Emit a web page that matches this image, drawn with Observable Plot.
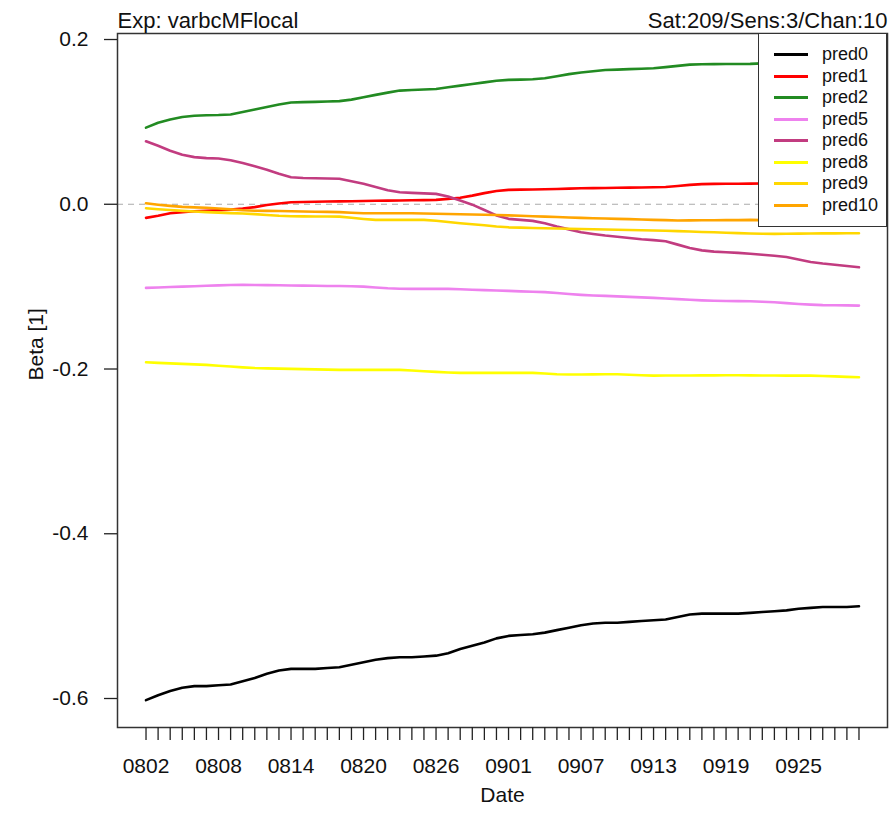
<!DOCTYPE html>
<html>
<head>
<meta charset="utf-8">
<script src="https://cdn.jsdelivr.net/npm/d3@7"></script>
<script src="https://cdn.jsdelivr.net/npm/@observablehq/plot@0.6"></script>
<style>
  html, body { margin: 0; padding: 0; background: #fff; }
  #wrap { position: relative; width: 889px; height: 831px; font-family: "Liberation Sans", Arial, Helvetica, sans-serif; }
  #legend { position: absolute; left: 758px; top: 33px; width: 127px; height: 192px; background: #fff; border: 1.5px solid #333; box-sizing: content-box; }
  .lg-row { position: absolute; left: 0; height: 20px; width: 127px; }
  .lg-line { position: absolute; left: 15px; top: 9px; width: 34px; height: 0; border-top: 3px solid; }
  .lg-text { position: absolute; left: 63px; top: 0; font-size: 18px; line-height: 20px; color: #111; }
</style>
</head>
<body>
<div id="wrap"></div>
<script>
// Dates (MMDD), one per day
const dates = ["0802","0803","0804","0805","0806","0807","0808","0809","0810","0811","0812","0813","0814","0815","0816","0817","0818","0819","0820","0821","0822","0823","0824","0825","0826","0827","0828","0829","0830","0831",
               "0901","0902","0903","0904","0905","0906","0907","0908","0909","0910","0911","0912","0913","0914","0915","0916","0917","0918","0919","0920","0921","0922","0923","0924","0925","0926","0927","0928","0929","0930"];
const labelEvery = 6;
const yTicks = [0.2, 0.0, -0.2, -0.4, -0.6];

const seriesNames = ["pred0","pred1","pred2","pred5","pred6","pred8","pred9","pred10"];
const seriesColors = ["#000000","#ff0000","#228b22","#ee82ee","#c23c80","#ffff00","#ffd700","#ffa500"];

const pred0 = [-0.602,-0.596,-0.591,-0.587,-0.585,-0.585,-0.584,-0.583,-0.579,-0.575,-0.570,-0.566,-0.564,-0.564,-0.564,-0.563,-0.562,-0.559,-0.556,-0.553,
               -0.551,-0.550,-0.550,-0.549,-0.548,-0.545,-0.540,-0.536,-0.532,-0.527,-0.524,-0.523,-0.522,-0.520,-0.517,-0.514,-0.511,-0.509,-0.508,-0.508,
               -0.507,-0.506,-0.505,-0.504,-0.501,-0.498,-0.497,-0.497,-0.497,-0.497,-0.496,-0.495,-0.494,-0.493,-0.491,-0.490,-0.489,-0.489,-0.489,-0.488];
const pred1 = [-0.0165,-0.014,-0.011,-0.0095,-0.0085,-0.0078,-0.0072,-0.0065,-0.0052,-0.0035,-0.001,0.001,0.0024,0.0027,0.003,0.0033,0.0035,0.0037,0.004,0.0042,
               0.0044,0.0046,0.0048,0.005,0.0053,0.0065,0.008,0.0105,0.0135,0.016,0.0175,0.0178,0.018,0.0183,0.0186,0.019,0.0194,0.0196,0.0198,0.02,
               0.0202,0.0204,0.0206,0.021,0.0222,0.0235,0.0244,0.0248,0.0249,0.0249,0.025,0.0252,0.0255,0.0258,0.026,0.0262,0.0264,0.0266,0.0268,0.027];
const pred2 = [0.093,0.099,0.103,0.106,0.1075,0.108,0.1083,0.109,0.112,0.115,0.118,0.121,0.1235,0.124,0.1243,0.1247,0.1252,0.127,0.130,0.1328,
               0.1355,0.138,0.1388,0.1393,0.140,0.142,0.144,0.146,0.148,0.150,0.151,0.1513,0.1517,0.153,0.1555,0.158,0.160,0.1615,0.163,0.1635,
               0.164,0.1645,0.1652,0.1665,0.168,0.1695,0.170,0.1701,0.1702,0.1703,0.1704,0.171,0.1718,0.1725,0.173,0.1733,0.1736,0.174,0.1742,0.1745];
const pred5 = [-0.1015,-0.101,-0.1005,-0.100,-0.0995,-0.099,-0.0985,-0.098,-0.0979,-0.098,-0.0982,-0.0984,-0.0986,-0.0988,-0.099,-0.0992,-0.0993,-0.0995,-0.100,-0.101,
               -0.102,-0.1025,-0.1027,-0.1027,-0.1027,-0.1027,-0.1032,-0.1037,-0.1042,-0.1047,-0.1052,-0.1057,-0.1062,-0.1067,-0.1078,-0.109,-0.110,-0.1107,-0.1112,-0.1118,
               -0.1124,-0.113,-0.1136,-0.1144,-0.1152,-0.116,-0.1167,-0.1171,-0.1174,-0.1176,-0.1178,-0.1183,-0.119,-0.120,-0.121,-0.1218,-0.1224,-0.1226,-0.1228,-0.123];
const pred6 = [0.0765,0.071,0.065,0.060,0.0572,0.056,0.0555,0.0535,0.050,0.046,0.042,0.037,0.0328,0.0318,0.0315,0.0312,0.031,0.028,0.0248,0.021,
               0.017,0.0145,0.0138,0.0132,0.0126,0.0095,0.0045,-0.0005,-0.007,-0.0135,-0.0177,-0.019,-0.0202,-0.023,-0.027,-0.0305,-0.034,-0.036,-0.038,-0.0395,
               -0.041,-0.0425,-0.0435,-0.045,-0.049,-0.053,-0.056,-0.0575,-0.0582,-0.059,-0.060,-0.0612,-0.0625,-0.064,-0.067,-0.070,-0.072,-0.0735,-0.075,-0.0765];
const pred8 = [-0.1918,-0.1925,-0.1932,-0.1938,-0.1944,-0.195,-0.196,-0.197,-0.198,-0.1988,-0.1992,-0.1995,-0.1998,-0.2001,-0.2004,-0.2007,-0.201,-0.201,-0.201,-0.201,
               -0.201,-0.201,-0.2018,-0.2027,-0.2035,-0.2042,-0.2047,-0.2047,-0.2047,-0.2047,-0.2047,-0.2047,-0.2047,-0.2055,-0.2063,-0.2067,-0.2066,-0.2065,-0.2064,-0.2064,
               -0.207,-0.2075,-0.208,-0.2079,-0.2078,-0.2078,-0.2077,-0.2077,-0.2076,-0.2076,-0.2077,-0.2078,-0.2079,-0.208,-0.208,-0.208,-0.2085,-0.209,-0.2095,-0.210];
const pred9 = [-0.0049,-0.006,-0.007,-0.008,-0.0088,-0.0095,-0.0102,-0.0108,-0.0113,-0.012,-0.013,-0.014,-0.0146,-0.0147,-0.0148,-0.0149,-0.015,-0.0163,-0.0178,-0.019,
               -0.019,-0.019,-0.019,-0.019,-0.020,-0.0215,-0.023,-0.0242,-0.0254,-0.027,-0.028,-0.0284,-0.0288,-0.0291,-0.0294,-0.0297,-0.030,-0.0303,-0.0306,-0.0309,
               -0.0312,-0.0315,-0.0318,-0.0321,-0.0326,-0.0331,-0.0336,-0.034,-0.0345,-0.035,-0.0355,-0.0358,-0.036,-0.0358,-0.0356,-0.0355,-0.0354,-0.0353,-0.0352,-0.0352];
const pred10 = [0.0012,-0.0005,-0.002,-0.0032,-0.0038,-0.0043,-0.0052,-0.0062,-0.0072,-0.0078,-0.008,-0.0082,-0.0085,-0.0088,-0.009,-0.0093,-0.0096,-0.0103,-0.011,-0.011,
                -0.011,-0.011,-0.011,-0.0113,-0.0116,-0.0118,-0.0121,-0.0124,-0.0127,-0.013,-0.0135,-0.014,-0.0145,-0.015,-0.0155,-0.016,-0.0165,-0.0169,-0.0173,-0.0177,
                -0.0181,-0.0185,-0.0189,-0.0193,-0.0197,-0.0196,-0.0195,-0.0194,-0.0193,-0.0192,-0.019,-0.0192,-0.0194,-0.0196,-0.0198,-0.020,-0.020,-0.0202,-0.0203,-0.0205];

const seriesValues = [pred0, pred1, pred2, pred5, pred6, pred8, pred9, pred10];

const titleLeft = "Exp: varbcMFlocal";
const titleRight = "Sat:209/Sens:3/Chan:10";
const xLabel = "Date";
const yLabel = "Beta [1]";

const rows = [];
seriesNames.forEach((name, s) => {
  seriesValues[s].forEach((v, i) => rows.push({i, v, series: name}));
});
const dayIdx = dates.map((d, i) => i);
const n = dates.length - 1;
const pad = n * 0.04;

const font = "'Liberation Sans', Arial, Helvetica, sans-serif";

const chart = Plot.plot({
  width: 889,
  height: 831,
  marginLeft: 117,
  marginRight: 2,
  marginTop: 33,
  marginBottom: 104,
  style: {fontFamily: font, background: "#fff", color: "#111"},
  x: {domain: [-pad, n + pad]},
  y: {domain: [-0.6352, 0.2073]},
  color: {domain: seriesNames, range: seriesColors},
  marks: [
    Plot.ruleY([0], {stroke: "#aaa", strokeWidth: 1.2, strokeDasharray: "6,5"}),
    Plot.line(rows, {x: "i", y: "v", stroke: "series", z: "series", strokeWidth: 2.6, curve: "linear"}),
    Plot.frame({stroke: "#333", strokeWidth: 1.5}),
    Plot.axisX({ticks: dayIdx, tickFormat: i => (i % labelEvery === 0 ? dates[i] : ""), tickSize: 13, tickPadding: 18, fontSize: 21, label: null, stroke: "#222", strokeWidth: 1.3}),
    Plot.axisY({ticks: yTicks, tickFormat: d => d.toFixed(1), tickSize: 13, tickPadding: 16, fontSize: 21, label: null, stroke: "#222", strokeWidth: 1.3}),
    Plot.text([titleLeft], {frameAnchor: "top-left", text: d => d, textAnchor: "start", lineAnchor: "bottom", dy: -6, fontSize: 22}),
    Plot.text([titleRight], {frameAnchor: "top-right", text: d => d, textAnchor: "end", lineAnchor: "bottom", dy: -6, fontSize: 22}),
    Plot.text([xLabel], {frameAnchor: "bottom", text: d => d, lineAnchor: "bottom", dy: 74, fontSize: 21}),
    Plot.text([yLabel], {frameAnchor: "left", text: d => d, dx: -81, rotate: -90, fontSize: 21})
  ]
});
const wrap = document.getElementById("wrap");
wrap.appendChild(chart);

// legend overlay
const lg = document.createElement("div");
lg.id = "legend";
seriesNames.forEach((name, k) => {
  const row = document.createElement("div");
  row.className = "lg-row";
  row.style.top = (10 + k * 21.5) + "px";
  const ln = document.createElement("div");
  ln.className = "lg-line";
  ln.style.borderTopColor = seriesColors[k];
  const tx = document.createElement("div");
  tx.className = "lg-text";
  tx.textContent = name;
  row.appendChild(ln);
  row.appendChild(tx);
  lg.appendChild(row);
});
wrap.appendChild(lg);
</script>
</body>
</html>
